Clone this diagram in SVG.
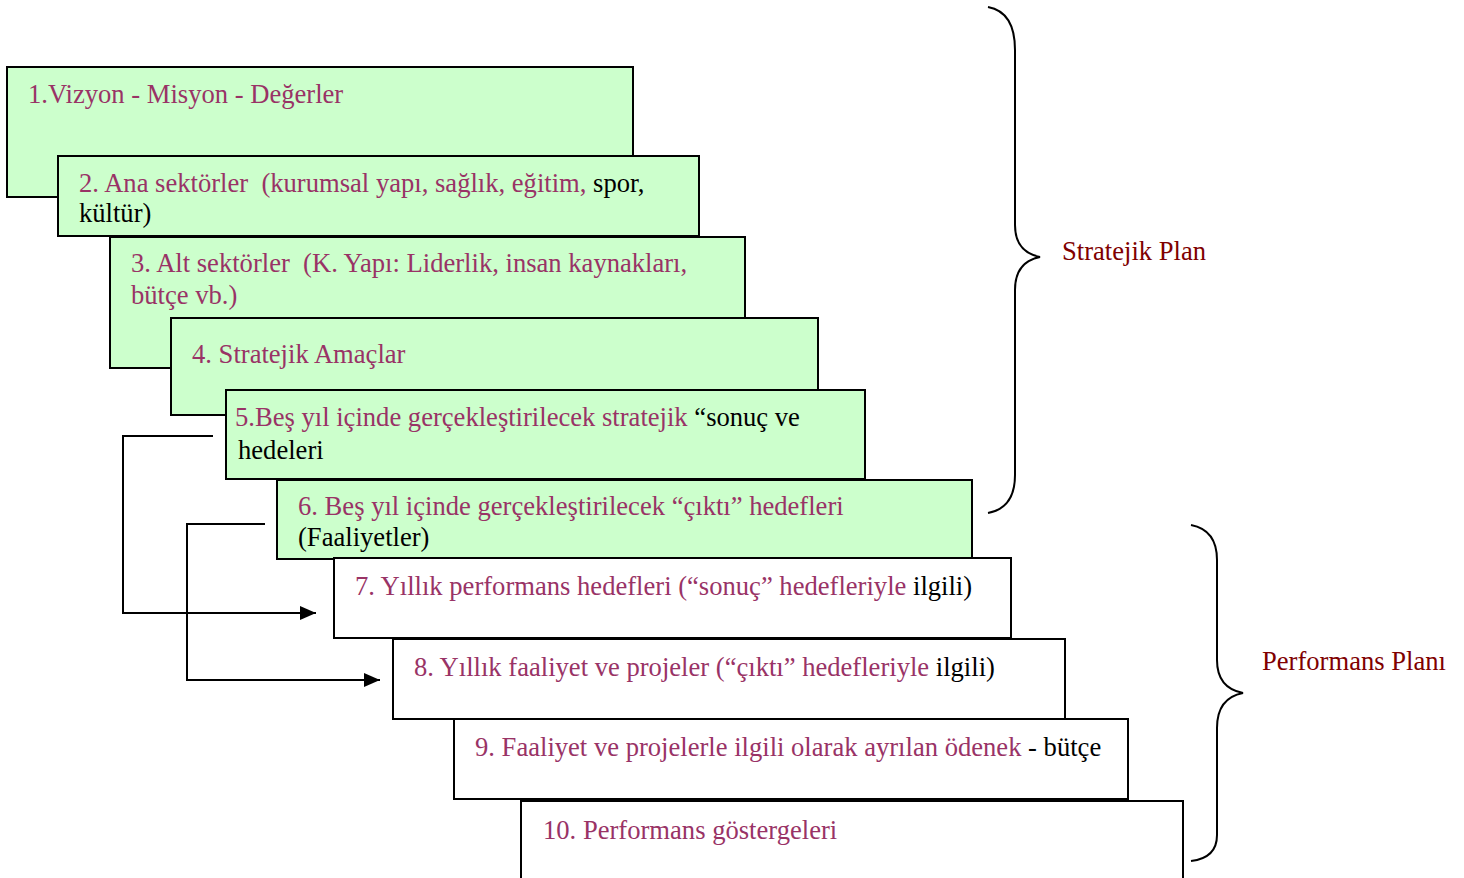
<svg xmlns="http://www.w3.org/2000/svg" width="1464" height="878" viewBox="0 0 1464 878">
<style>
.g{fill:#ccffcc;stroke:#000;stroke-width:2}
.w{fill:#fff;stroke:#000;stroke-width:2}
text{font-family:"Liberation Serif","Times New Roman",serif;font-size:26.6px;fill:#993366;white-space:pre}
.k{fill:#000}
.lab{fill:#800000}
.c{fill:none;stroke:#000;stroke-width:2}
</style>
<defs>
<marker id="ah" markerWidth="16" markerHeight="14" refX="16" refY="7" orient="auto" markerUnits="userSpaceOnUse" viewBox="0 0 16 14">
<path d="M0,0 L16,7 L0,14 Z" fill="#000"/>
</marker>
</defs>
<rect width="1464" height="878" fill="#fff"/>
<g id="n1"><rect class="g" x="7" y="67" width="626" height="130"/><text x="28" y="103">1.Vizyon - Misyon - Değerler</text></g>
<g id="n2"><rect class="g" x="58" y="156" width="641" height="80"/><text x="79" y="192" xml:space="preserve">2. Ana sektörler  (kurumsal yapı, sağlık, eğitim, <tspan class="k">spor,</tspan></text><text x="79" y="222" class="k">kültür)</text></g>
<g id="n3"><rect class="g" x="110" y="237" width="635" height="131"/><text x="131" y="272" xml:space="preserve">3. Alt sektörler  (K. Yapı: Liderlik, insan kaynakları,</text><text x="131" y="304">bütçe vb.)</text></g>
<g id="n4"><rect class="g" x="171" y="318" width="647" height="97"/><text x="192" y="363">4. Stratejik Amaçlar</text></g>
<g id="n5"><rect class="g" x="226" y="390" width="639" height="89"/><text x="235" y="426" xml:space="preserve">5.Beş yıl içinde gerçekleştirilecek stratejik <tspan class="k">“sonuç ve</tspan></text><text x="238" y="459" class="k">hedeleri</text></g>
<g id="n6"><rect class="g" x="277" y="480" width="695" height="79"/><text x="298" y="515">6. Beş yıl içinde gerçekleştirilecek “çıktı” hedefleri</text><text x="298" y="546" class="k">(Faaliyetler)</text></g>
<g id="n7"><rect class="w" x="334" y="558" width="677" height="80"/><text x="355" y="595" xml:space="preserve">7. Yıllık performans hedefleri (“sonuç” hedefleriyle <tspan class="k">ilgili)</tspan></text></g>
<g id="n8"><rect class="w" x="393" y="639" width="672" height="80"/><text x="414" y="676" xml:space="preserve">8. Yıllık faaliyet ve projeler (“çıktı” hedefleriyle <tspan class="k">ilgili)</tspan></text></g>
<g id="n9"><rect class="w" x="454" y="719" width="674" height="80"/><text x="475" y="756" xml:space="preserve">9. Faaliyet ve projelerle ilgili olarak ayrılan ödenek <tspan class="k">- bütçe</tspan></text></g>
<g id="n10"><rect class="w" x="521" y="801" width="662" height="90"/><text x="543" y="839">10. Performans göstergeleri</text></g>
<g id="connectors">
<polyline class="c" points="213,436 123,436 123,613 316,613" marker-end="url(#ah)"/>
<polyline class="c" points="265,524 187,524 187,680 380,680" marker-end="url(#ah)"/>
<path class="c" d="M988,7 Q1015,12 1015,50 L1015,225 Q1015,252 1040,257 Q1015,262 1015,290 L1015,475 Q1015,508 988,513"/>
<path class="c" d="M1191,525 Q1217,530 1217,560 L1217,660 Q1217,688 1243,693 Q1217,698 1217,728 L1217,835 Q1217,858 1191,861"/>
</g>
<g id="labels">
<text class="lab" x="1062" y="260">Stratejik Plan</text>
<text class="lab" x="1262" y="670">Performans Planı</text>
</g>
</svg>
